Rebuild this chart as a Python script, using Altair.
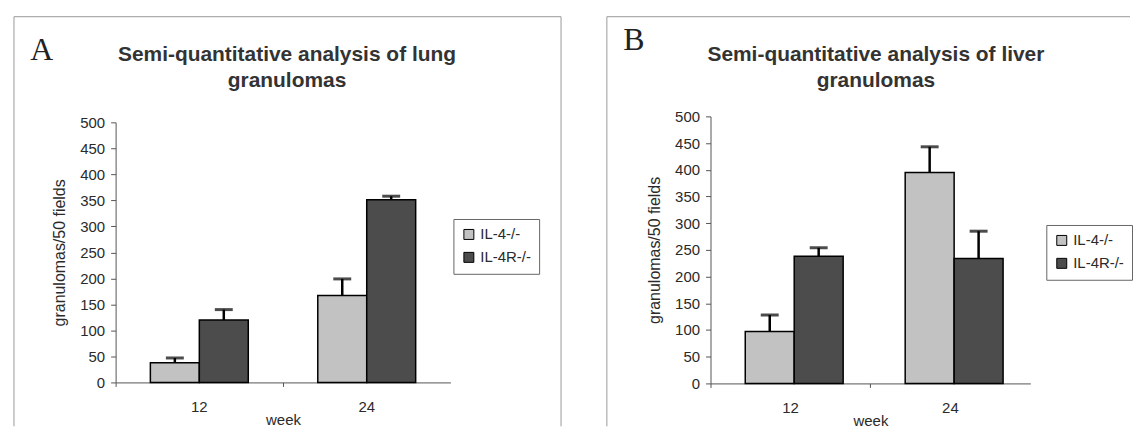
import altair as alt
import pandas as pd

# ---------------- data ----------------
weeks = ["12", "24"]
genotypes = ["IL-4-/-", "IL-4R-/-"]

lung_il4 = [38, 167]
lung_il4r = [120, 351]
lung_il4_top = [47, 199]
lung_il4r_top = [140, 358]

liver_il4 = [97, 395]
liver_il4r = [238, 234]
liver_il4_top = [128, 443]
liver_il4r_top = [254, 285]

y_ticks = [0, 50, 100, 150, 200, 250, 300, 350, 400, 450, 500]

lung_title = ["Semi-quantitative analysis of lung", "granulomas"]
liver_title = ["Semi-quantitative analysis of liver", "granulomas"]

FONT = "Liberation Sans"
SERIF = "Liberation Serif"
LIGHT = "#c2c2c2"
DARK = "#4c4c4c"
BORDER = "#9a9a9a"
TXT = "#2a2a2a"

one = pd.DataFrame({"k": [0]})


def hrule(x1, x2, yv):
    return alt.Chart(one).mark_rule(color=BORDER, strokeWidth=1).encode(
        x=alt.value(x1), x2=alt.value(x2), y=alt.value(yv))


def vrule(xv, y1, y2):
    return alt.Chart(one).mark_rule(color=BORDER, strokeWidth=1).encode(
        x=alt.value(xv), y=alt.value(y1), y2=alt.value(y2))


def panel(v4, v4r, t4, t4r, title_lines, letter, w, h, top_gap, geo):
    df = pd.DataFrame({
        "week": weeks * 2,
        "genotype": [genotypes[0]] * 2 + [genotypes[1]] * 2,
        "value": v4 + v4r,
        "top": t4 + t4r,
    })
    x_axis = alt.Axis(title="week", labelAngle=0, bandPosition=0,
                      tickSize=4, labelPadding=13, titlePadding=-2,
                      labelFont=FONT, titleFont=FONT, labelFontSize=15, titleFontSize=15,
                      titleFontWeight="normal", labelColor=TXT, titleColor=TXT,
                      domainColor="#555", tickColor="#555")
    y_axis = alt.Axis(title="granulomas/50 fields", values=y_ticks, grid=False,
                      tickSize=5, labelPadding=6, titlePadding=12,
                      labelFont=FONT, titleFont=FONT, labelFontSize=15, titleFontSize=16,
                      titleFontWeight="normal", labelColor=TXT, titleColor=TXT,
                      domainColor="#555", tickColor="#555")
    xs = alt.Scale(paddingInner=0, paddingOuter=0)
    ys = alt.Scale(domain=[0, 500], nice=False, range=[h, top_gap])

    def X():
        return alt.X("week:N", scale=xs, axis=x_axis)

    def XO():
        return alt.XOffset("genotype:N",
                           scale=alt.Scale(domain=genotypes, paddingOuter=0.71, paddingInner=0))

    def Y(field):
        return alt.Y(field, type="quantitative", scale=ys, axis=y_axis)

    base = alt.Chart(df)
    bars = base.mark_bar(stroke="black", strokeWidth=1.5).encode(
        x=X(), xOffset=XO(), y=Y("value"),
        color=alt.Color("genotype:N",
                        scale=alt.Scale(domain=genotypes, range=[LIGHT, DARK]),
                        legend=alt.Legend(title=None, orient="none",
                                          legendX=geo["lx"], legendY=geo["ly"],
                                          direction="vertical",
                                          strokeColor="#666", padding=8, rowPadding=7,
                                          symbolType="square", symbolSize=100,
                                          symbolStrokeColor="black", symbolStrokeWidth=1,
                                          labelFont=FONT, labelFontSize=15,
                                          labelColor=TXT, labelOffset=4)))
    err = base.mark_rule(color="black", strokeWidth=2.5).encode(
        x=X(), xOffset=XO(), y=Y("value"), y2="top:Q")
    cap = base.mark_tick(color="black", thickness=3, size=18).encode(
        x=X(), xOffset=XO(), y=Y("top"))

    bl, bt, br, bb = geo["bl"], geo["bt"], geo["br"], geo["bb"]
    deco = [hrule(bl, br, bt), vrule(bl, bt, bb)]
    if geo.get("right_line", True):
        deco.append(vrule(br, bt, bb))

    letter_mark = alt.Chart(one).mark_text(
        font=SERIF, fontSize=32, color="#222", align="center", baseline="alphabetic"
    ).encode(x=alt.value(geo["ax"]), y=alt.value(geo["ay"]), text=alt.value(letter))

    title_mark = alt.Chart(one).mark_text(
        font=FONT, fontSize=21, fontWeight="bold", color="#333", align="center",
        baseline="middle", lineHeight=27
    ).encode(x=alt.value(geo["tx"]), y=alt.value(geo["ty"]), text=alt.value(title_lines))

    return alt.layer(*deco, letter_mark, title_mark, bars, err, cap).properties(
        width=w, height=h)


# both panels: view origin at page y=115; panel A's value axis starts 6px lower
geo_a = dict(bl=-102, bt=-100, br=447, bb=311, ax=-74, ay=-57, tx=172, ty=-62, lx=339, ly=103)
geo_b = dict(bl=-104, bt=-100, br=421, bb=311, ax=-77, ay=-67, tx=166, ty=-62, lx=337, ly=109,
             right_line=False)

chart_a = panel(lung_il4, lung_il4r, lung_il4_top, lung_il4r_top, lung_title, "A",
                336, 267, 6, geo_a)
chart_b = panel(liver_il4, liver_il4r, liver_il4_top, liver_il4r_top, liver_title, "B",
                321, 268, 0, geo_b)

chart = alt.hconcat(chart_a, chart_b, spacing=44).resolve_scale(
    x="independent", y="independent", color="independent"
).resolve_legend(color="independent").properties(
    padding={"left": 5, "top": 7, "right": 0, "bottom": 0}
).configure_view(strokeWidth=0)

chart.save("out.html", embed_options={"renderer": "svg", "actions": False})
